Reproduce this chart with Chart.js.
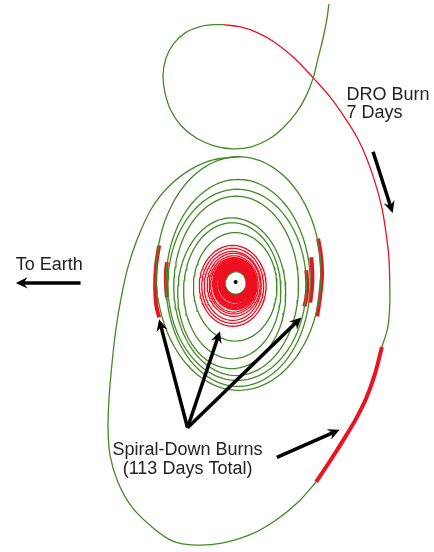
<!DOCTYPE html>
<html lang="en">
<head>
<meta charset="utf-8">
<title>Spiral-Down Trajectory</title>
<script src="https://cdn.jsdelivr.net/npm/chart.js@4.4.0/dist/chart.umd.min.js"></script>
<style>
    body { margin: 0; background: #fff; }
    #wrap { width: 434px; height: 552px; }
</style>
</head>
<body>
<div id="wrap"><canvas id="traj" width="434" height="552"></canvas></div>
<script>
// trajectory points (picture pixel units, y down)
const topLoopGreen = [[331,0],[329,15],[325,35],[320,55],[315,75],[308,93],[298,110],[285,125],[270,137],[252,145],[233,147],[214,144],[196,136],[181,124],[170,108],[164,90],[162,72],[165,55],[173,40],[185,29],[200,23],[213,21],[223,21]];
const droArcRed = [[223,21],[240,23],[258,29],[276,39],[296,55],[315,75],[332,94],[347,115],[360,136],[370,158],[378,181],[385,207],[389,231],[392,256],[393,280]];
const droRightGreen = [[393,280],[393,305],[391,328],[385,348]];
const droBurnThick = [[385,348],[378,375],[369,400],[358,422],[346,442],[332,464],[318,485]];
const outerLoopGreen = [[318,485],[300,505],[278,523],[252,538],[222,547],[195,549],[172,545],[150,530],[130,510],[116,485],[108,458],[106,430],[107,400],[110,365],[114,330],[119,300],[126,268],[136,238],[150,208],[168,185],[190,168],[214,158],[239,155]];

// spiral-down burn arcs
const burnLeftOuter = [[158,245],[155,265],[154,285],[155,305],[158,318]];
const burnLeftInner = [[166,262],[165,272],[165,285],[166,298]];
const burnRightOuter = [[320,238],[323,256],[324,275],[322,297],[319,317]];
const burnRightMid = [[313,257],[314,270],[314,285],[312,303]];
const burnRightInner = [[308,270],[309,285],[308,298],[306,307]];

// green spiral rings: centre and half sizes
const greenCx = [239, 238.5, 237.5, 236.5, 232, 232.5, 235.5, 236];
const greenCy = [273.5, 283, 285, 286, 293.5, 291, 287, 283];
const greenRx = [84, 73.5, 70.5, 63.5, 55, 49.5, 42.5, 11.5];
const greenRy = [118.5, 105, 97, 91, 76.5, 69, 55, 12];
const greenW  = [1.3, 1.3, 1.3, 1.3, 1.3, 1.3, 1.3, 2.5];

// red low-orbit rings
const redCx = [233, 233, 233, 234, 234, 234, 235, 235, 235, 235, 235, 235, 236, 236, 236, 236, 236, 236, 236, 236, 236, 236, 236, 236];
const redCy = [286, 286, 286, 285, 285, 285, 284, 284, 284, 284, 284, 284, 283, 283, 283, 283, 283, 283, 283, 283, 283, 283, 283, 283];
const redRx = [34, 31.5, 29, 27, 25, 23.5, 22.3, 21.4, 20.6, 19.8, 19, 18.3, 17.6, 16.9, 16.2, 15.6, 15, 14.4, 13.8, 13.3, 12.8, 12.4, 12, 11.6];
const redRy = [41, 38, 35, 32, 29.5, 27.6, 26, 24.8, 23.6, 22.6, 21.6, 20.7, 19.8, 19, 18.2, 17.5, 16.8, 16.1, 15.4, 14.8, 14.2, 13.7, 13.2, 12.7];

const centreDot = [[236,282]];

// annotation arrows: from x, from y, to x, to y
const arrows = [
    [78, 283, 12, 283],
    [376, 150, 396, 212],
    [187, 430, 158, 320],
    [187, 430, 220, 332],
    [187, 430, 303, 318],
    [278, 460, 342, 432]
];
const labels = [
    { text: 'DRO Burn', x: 349, y: 97, align: 'left' },
    { text: '7 Days', x: 349, y: 116, align: 'left' },
    { text: 'To Earth', x: 12, y: 270, align: 'left' },
    { text: 'Spiral-Down Burns', x: 187, y: 458, align: 'center' },
    { text: '(113 Days Total)', x: 187, y: 477, align: 'center' }
];

const GREEN = '#428a26';
const RED = '#ee1122';

function pts(list) {
    return list.map(p => ({ x: p[0], y: p[1] }));
}

function ellipse(cx, cy, rx, ry) {
    const out = [];
    for (let i = 0; i <= 120; i++) {
        const a = i / 120 * Math.PI * 2;
        out.push({ x: cx + rx * Math.cos(a), y: cy + ry * Math.sin(a) });
    }
    return out;
}

function pathSet(list, color, width, tension) {
    return { data: pts(list), borderColor: color, borderWidth: width, showLine: true, pointRadius: 0, tension: tension, fill: false };
}

const datasets = [];
for (let i = 0; i < redRx.length; i++) {
    datasets.push({ data: ellipse(redCx[i], redCy[i], redRx[i], redRy[i]), borderColor: RED, borderWidth: i < 6 ? 1.3 : 1.6, showLine: true, pointRadius: 0, tension: 0 });
}
for (let i = 0; i < greenRx.length; i++) {
    datasets.push({ data: ellipse(greenCx[i], greenCy[i], greenRx[i], greenRy[i]), borderColor: GREEN, borderWidth: greenW[i], showLine: true, pointRadius: 0, tension: 0 });
}
datasets.push(pathSet(topLoopGreen, GREEN, 1.3, 0.35));
datasets.push(pathSet(droArcRed, RED, 1.3, 0.35));
datasets.push(pathSet(droRightGreen, GREEN, 1.3, 0.35));
datasets.push(pathSet(outerLoopGreen, GREEN, 1.3, 0.35));
[droBurnThick, burnLeftOuter, burnLeftInner, burnRightOuter, burnRightMid, burnRightInner].forEach(b => {
    datasets.push(pathSet(b, RED, 4, 0.35));
});
datasets.push({ data: pts(centreDot), pointRadius: 2, pointBackgroundColor: '#000', pointBorderWidth: 0, showLine: false });

const annotations = {
    id: 'annotations',
    afterDatasetsDraw(chart) {
        const ctx = chart.ctx;
        const sx = chart.scales.x, sy = chart.scales.y;
        ctx.save();
        ctx.strokeStyle = '#000';
        ctx.fillStyle = '#000';
        ctx.lineWidth = 3.5;
        ctx.lineCap = 'butt';
        arrows.forEach(a => {
            const x1 = sx.getPixelForValue(a[0]), y1 = sy.getPixelForValue(a[1]);
            const x2 = sx.getPixelForValue(a[2]), y2 = sy.getPixelForValue(a[3]);
            const ang = Math.atan2(y2 - y1, x2 - x1);
            const hl = 13, hw = 0.45;
            ctx.beginPath();
            ctx.moveTo(x1, y1);
            ctx.lineTo(x2 - Math.cos(ang) * 6, y2 - Math.sin(ang) * 6);
            ctx.stroke();
            ctx.beginPath();
            ctx.moveTo(x2, y2);
            ctx.lineTo(x2 - hl * Math.cos(ang - hw), y2 - hl * Math.sin(ang - hw));
            ctx.lineTo(x2 - hl * 0.6 * Math.cos(ang), y2 - hl * 0.6 * Math.sin(ang));
            ctx.lineTo(x2 - hl * Math.cos(ang + hw), y2 - hl * Math.sin(ang + hw));
            ctx.closePath();
            ctx.fill();
        });
        ctx.fillStyle = '#222';
        ctx.font = '18px "Liberation Sans", Arial, sans-serif';
        ctx.textBaseline = 'alphabetic';
        labels.forEach(l => {
            ctx.textAlign = l.align;
            ctx.fillText(l.text, sx.getPixelForValue(l.x), sy.getPixelForValue(l.y));
        });
        ctx.restore();
    }
};

new Chart(document.getElementById('traj').getContext('2d'), {
    type: 'scatter',
    data: { datasets: datasets },
    options: {
        responsive: false,
        animation: false,
        layout: { padding: 0 },
        plugins: { legend: { display: false }, tooltip: { enabled: false } },
        scales: {
            x: { type: 'linear', min: 0, max: 434, display: false },
            y: { type: 'linear', min: 0, max: 552, reverse: true, display: false }
        }
    },
    plugins: [annotations]
});
</script>
</body>
</html>
